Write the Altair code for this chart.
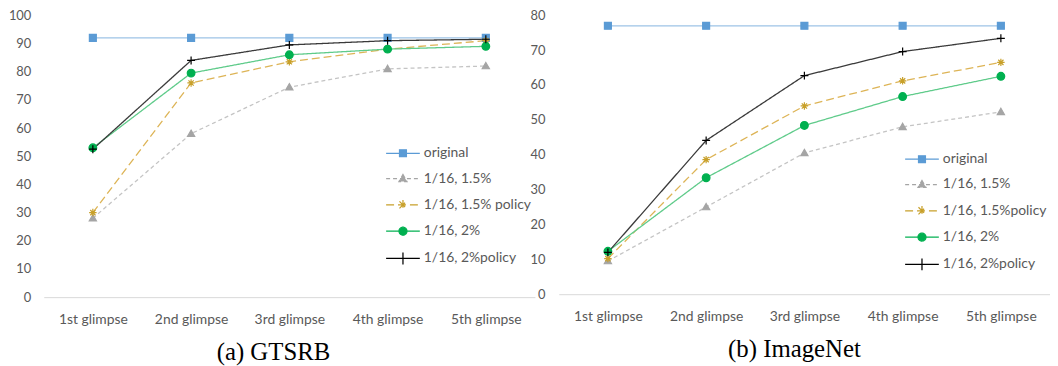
import altair as alt
import pandas as pd

glimpses = ["1st glimpse", "2nd glimpse", "3rd glimpse", "4th glimpse", "5th glimpse"]

# (a) GTSRB
gtsrb_names = ["original", "1/16, 1.5%", "1/16, 1.5% policy", "1/16, 2%", "1/16, 2%policy"]
gtsrb_original = [92, 92, 92, 92, 92]
gtsrb_15 = [28, 58, 74.5, 81, 82]
gtsrb_15_policy = [30, 76, 83.5, 88, 91]
gtsrb_2 = [53, 79.5, 86, 88, 89]
gtsrb_2_policy = [52.5, 84, 89.5, 91, 91.5]
gtsrb_ticks = [0, 10, 20, 30, 40, 50, 60, 70, 80, 90, 100]

# (b) ImageNet
imagenet_names = ["original", "1/16, 1.5%", "1/16, 1.5%policy", "1/16, 2%", "1/16, 2%policy"]
imagenet_original = [77, 77, 77, 77, 77]
imagenet_15 = [9.5, 25, 40.5, 48, 52.3]
imagenet_15_policy = [10.2, 38.6, 54, 61.2, 66.5]
imagenet_2 = [12.3, 33.4, 48.4, 56.7, 62.5]
imagenet_2_policy = [12, 44.1, 62.7, 69.6, 73.4]
imagenet_ticks = [0, 10, 20, 30, 40, 50, 60, 70, 80]

line_colors = ["#9DC3E6", "#C4C4C4", "#DDB456", "#5FCB8A", "#3A3A3A"]
marker_colors = ["#5B9BD5", "#A5A5A5", "#C8A02A", "#00B050", "#000000"]
marker_fills = ["#5B9BD5", "#A5A5A5", "transparent", "#00B050", "transparent"]
dashes = [[1, 0], [4, 3], [8, 4], [1, 0], [1, 0]]
marker_shapes = [
    "M-1,-1H1V1H-1Z",
    "M0,-1L1,0.75H-1Z",
    "M-1,0H1M0,-1V1M-0.7,-0.7L0.7,0.7M-0.7,0.7L0.7,-0.7",
    "circle",
    "M-1,0H1M0,-1V1",
]
marker_sizes = [49, 64, 100, 64, 144]

# legend symbols: line segment plus marker (units of 6px)
L = "M-2.83,0H2.83"
legend_paths = [
    L + "M-0.58,-0.58H0.58V0.58H-0.58Z",
    L + "M0,-0.67L0.67,0.5H-0.67Z",
    L + "M-0.83,0H0.83M0,-0.83V0.83M-0.59,-0.59L0.59,0.59M-0.59,0.59L0.59,-0.59",
    L + "M-0.67,0A0.67,0.67 0 1,0 0.67,0A0.67,0.67 0 1,0 -0.67,0Z",
    L + "M0,-1V1",
]


def make_df(names, series):
    rows = []
    for name, vals in zip(names, series):
        for g, v in zip(glimpses, vals):
            rows.append({"glimpse": g, "series": name, "value": v})
    return pd.DataFrame(rows)


def panel(names, series, ymax, ticks, height, lx, ly, title, dx, lab_pad):
    df = make_df(names, series)
    legend = alt.Legend(
        orient="none", legendX=lx, legendY=ly, title=None, padding=0,
        labelFont="Lato", labelFontSize=14, labelColor="#595959",
        symbolSize=144, symbolStrokeWidth=1.25, symbolOpacity=1,
        labelOffset=14, rowPadding=11.5,
    )
    x = alt.X("glimpse:N", sort=glimpses,
              scale=alt.Scale(type="point", padding=0.5),
              axis=alt.Axis(title=None, labelAngle=0, ticks=False, domainColor="#D9D9D9",
                            labelFont="Lato", labelFontSize=14, labelColor="#595959",
                            labelPadding=16))
    y = alt.Y("value:Q", scale=alt.Scale(domain=[0, ymax], nice=False, zero=True),
              axis=alt.Axis(title=None, values=ticks, grid=False, domain=False, ticks=False,
                            labelFont="Lato", labelFontSize=13, labelColor="#595959",
                            labelPadding=lab_pad, minExtent=35, maxExtent=35))
    base = alt.Chart(df)
    lines = base.mark_line(strokeWidth=1.3).encode(
        x=x, y=y,
        color=alt.Color("series:N", scale=alt.Scale(domain=names, range=line_colors), legend=None),
        strokeDash=alt.StrokeDash("series:N", scale=alt.Scale(domain=names, range=dashes), legend=None),
        detail="series:N",
    )
    points = base.mark_point(filled=False, strokeWidth=1.2, opacity=1).encode(
        x=x, y=y,
        fill=alt.Fill("series:N", scale=alt.Scale(domain=names, range=marker_fills), legend=None),
        stroke=alt.Stroke("series:N", scale=alt.Scale(domain=names, range=marker_colors), legend=None),
        shape=alt.Shape("series:N", scale=alt.Scale(domain=names, range=marker_shapes), legend=None),
        size=alt.Size("series:O", scale=alt.Scale(domain=names, range=marker_sizes), legend=None),
    )
    # legend-only layer (no rows survive the filter; entries come from the scale domains)
    legend_layer = base.transform_filter("false").mark_point(filled=False, opacity=1).encode(
        fill=alt.Fill("series:N", scale=alt.Scale(domain=names, range=marker_fills), legend=legend),
        stroke=alt.Stroke("series:N", scale=alt.Scale(domain=names, range=marker_colors), legend=legend),
        shape=alt.Shape("series:N", scale=alt.Scale(domain=names, range=legend_paths), legend=legend),
        strokeDash=alt.StrokeDash("series:N", scale=alt.Scale(domain=names, range=dashes), legend=legend),
    )
    return alt.layer(lines, points, legend_layer).properties(
        width=495, height=height,
        title=alt.TitleParams(title, orient="bottom", anchor="middle", font="Liberation Serif",
                              fontSize=25, fontWeight="normal", color="#000000", offset=13, dx=dx),
    ).resolve_scale(color="independent", strokeDash="independent", fill="independent",
                    stroke="independent", shape="independent", size="independent")


left = panel(gtsrb_names,
             [gtsrb_original, gtsrb_15, gtsrb_15_policy, gtsrb_2, gtsrb_2_policy],
             100, gtsrb_ticks, 284, 355, 132, "(a) GTSRB", -16, 13)
right = panel(imagenet_names,
              [imagenet_original, imagenet_15, imagenet_15_policy, imagenet_2, imagenet_2_policy],
              80, imagenet_ticks, 281, 359, 138, "(b) ImageNet", -10, 14)

chart = alt.hconcat(left, right, spacing=24, bounds="flush").resolve_scale(
    color="independent", strokeDash="independent", fill="independent",
    stroke="independent", shape="independent", size="independent", y="independent"
).properties(
    padding={"left": 0, "top": 0, "right": 0, "bottom": 0}
).configure_view(stroke=None)

chart.save("out.html", embed_options={"renderer": "svg", "actions": False})
